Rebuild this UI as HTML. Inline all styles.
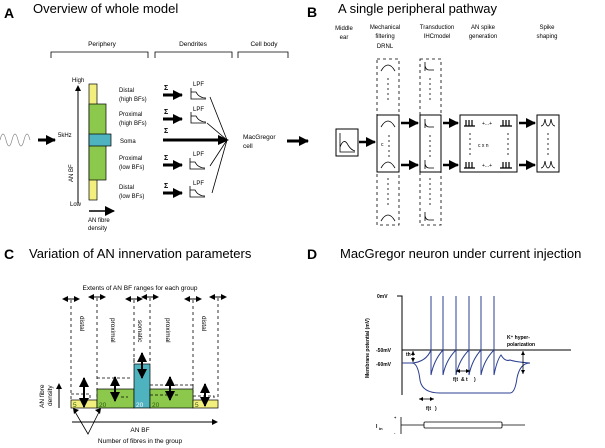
<!DOCTYPE html>
<html><head><meta charset="utf-8"><style>
html,body{margin:0;padding:0;background:#fff}
svg{display:block;font-family:"Liberation Sans",sans-serif}
</style></head><body>
<svg width="605" height="448" viewBox="0 0 605 448" xmlns="http://www.w3.org/2000/svg">
<defs>
<marker id="ah" markerWidth="6" markerHeight="6" refX="5" refY="3" orient="auto" markerUnits="userSpaceOnUse"><path d="M0,0 L6,3 L0,6z" fill="#000"/></marker>
<marker id="ahb" markerWidth="10" markerHeight="10" refX="9" refY="5" orient="auto" markerUnits="userSpaceOnUse"><path d="M0,0 L10,5 L0,10z" fill="#000"/></marker>
<marker id="as" markerWidth="4" markerHeight="4" refX="4" refY="2" orient="auto" markerUnits="userSpaceOnUse"><path d="M0,0 L4,2 L0,4z" fill="#000"/></marker>
</defs>

<!-- ===== Panel A ===== -->
<text x="4" y="18" font-size="14" font-weight="bold">A</text>
<text x="33" y="13" font-size="13">Overview of whole model</text>
<g font-size="6.5" text-anchor="middle">
<text x="102" y="46">Periphery</text><text x="193" y="46">Dendrites</text><text x="264" y="46">Cell body</text>
</g>
<g fill="none" stroke="#000" stroke-width="0.8">
<path d="M51,58 V52 H148 V58"/><path d="M155,58 V52 H232 V58"/><path d="M238,58 V52 H288 V58"/>
</g>
<path d="M0,140 q3,-12 6,0 t6,0 t6,0 t6,0 t6,0" fill="none" stroke="#888" stroke-width="0.7"/>
<line x1="38" y1="140" x2="55" y2="140" stroke="#000" stroke-width="3" marker-end="url(#ahb)"/>
<text x="58" y="137" font-size="6">5kHz</text>
<line x1="78" y1="203" x2="78" y2="86" stroke="#000" stroke-width="1" marker-end="url(#ah)"/>
<text x="72" y="82" font-size="6">High</text><text x="70" y="206" font-size="6">Low</text>
<text transform="translate(73,182) rotate(-90)" font-size="6">AN BF</text>
<rect x="89" y="84" width="8" height="116" fill="#f3ef7e" stroke="#000" stroke-width="0.7"/>
<rect x="89" y="104" width="17" height="76" fill="#8cc84b" stroke="#000" stroke-width="0.7"/>
<rect x="89" y="134" width="22" height="12" fill="#4fb3bf" stroke="#000" stroke-width="0.7"/>
<line x1="89" y1="211" x2="114" y2="211" stroke="#000" stroke-width="1.5" marker-end="url(#ahb)"/>
<text x="88" y="222" font-size="6">AN fibre</text><text x="88" y="230" font-size="6">density</text>
<g font-size="6">
<text x="119" y="92">Distal</text><text x="119" y="101">(high BFs)</text>
<text x="119" y="116">Proximal</text><text x="119" y="125">(high BFs)</text>
<text x="120" y="143">Soma</text>
<text x="119" y="160">Proximal</text><text x="119" y="169">(low BFs)</text>
<text x="119" y="189">Distal</text><text x="119" y="198">(low BFs)</text>
</g>
<g stroke="#000" stroke-width="3">
<line x1="163" y1="95" x2="182" y2="95" marker-end="url(#ahb)"/>
<line x1="163" y1="119" x2="182" y2="119" marker-end="url(#ahb)"/>
<line x1="163" y1="165" x2="182" y2="165" marker-end="url(#ahb)"/>
<line x1="163" y1="193" x2="182" y2="193" marker-end="url(#ahb)"/>
<line x1="163" y1="140" x2="226" y2="140"/>
</g>
<path d="M218,135 L229,140 L218,145z"/>
<g font-size="7" font-weight="bold"><text x="164" y="90">Σ</text><text x="164" y="114">Σ</text><text x="164" y="133">Σ</text><text x="164" y="160">Σ</text><text x="164" y="188">Σ</text></g>
<g font-size="6"><text x="193" y="86">LPF</text><text x="193" y="111">LPF</text><text x="193" y="156">LPF</text><text x="193" y="185">LPF</text></g>
<g fill="none" stroke="#000" stroke-width="0.8">
<path d="M191,88 V99 H206 M191,92 H196 q3,6 10,6"/>
<path d="M191,112 V123 H206 M191,116 H196 q3,6 10,6"/>
<path d="M190,158 V169 H205 M190,162 H195 q3,6 10,6"/>
<path d="M190,186 V197 H205 M190,190 H195 q3,6 10,6"/>
<path d="M210,97 L227,140 M207,123 L227,140 M210,166 L227,140 M212,193 L227,140"/>
</g>
<text x="243" y="139" font-size="6.5">MacGregor</text><text x="243" y="148" font-size="6.5">cell</text>
<line x1="287" y1="141" x2="308" y2="141" stroke="#000" stroke-width="3" marker-end="url(#ahb)"/>

<!-- ===== Panel B ===== -->
<text x="307" y="17" font-size="14" font-weight="bold">B</text>
<text x="338" y="13" font-size="13">A single peripheral pathway</text>
<g font-size="6" text-anchor="middle">
<text x="344" y="30">Middle</text><text x="344" y="39">ear</text>
<text x="385" y="29">Mechanical</text><text x="385" y="38">filtering</text><text x="385" y="48">DRNL</text>
<text x="437" y="29">Transduction</text><text x="437" y="38">IHCmodel</text>
<text x="483" y="29">AN spike</text><text x="483" y="38">generation</text>
<text x="547" y="29">Spike</text><text x="547" y="38">shaping</text>
</g>
<g fill="none" stroke="#000">
<rect x="336" y="129" width="22" height="27" stroke-width="1"/>
<path d="M340,133 V152 H355 M340,147 q4,-10 8,-2 q3,5 7,6" stroke-width="0.8"/>
<rect x="377" y="59" width="22" height="166" stroke-dasharray="3,3" stroke-width="0.8"/>
<rect x="420" y="59" width="21" height="166" stroke-dasharray="3,3" stroke-width="0.8"/>
<rect x="377" y="115" width="22" height="57" stroke-width="1"/>
<rect x="420" y="115" width="21" height="57" stroke-width="1"/>
<rect x="460" y="115" width="57" height="57" stroke-width="1"/>
<rect x="537" y="115" width="22" height="57" stroke-width="1"/>
<g stroke-width="0.8">
<path d="M381,71 q7,-12 14,0"/><path d="M381,127 q7,-12 14,0"/><path d="M381,168 q7,-12 14,0"/><path d="M381,221 q7,-12 14,0"/>
<path d="M425,62 V71 M425,66 q1,4 4,4 H434"/><path d="M425,119 V128 M425,123 q1,4 4,4 H434"/><path d="M425,160 V169 M425,164 q1,4 4,4 H434"/><path d="M425,212 V221 M425,216 q1,4 4,4 H434"/>
<path d="M388,78 V100 M388,178 V205 M430,78 V100 M430,178 V205 M389,135 V160 M430,135 V160 M470,133 V157 M508,133 V157 M548,133 V157" stroke-dasharray="2,3"/>
<path d="M541,126 q3,0 4,-7 q1,7 3,7 q2,0 3,-7 q1,7 4,7"/>
<path d="M541,168 q3,0 4,-7 q1,7 3,7 q2,0 3,-7 q1,7 4,7"/>
</g>
</g>
<g stroke="#000" stroke-width="1.2" fill="none">
<path d="M464,126 H475 M466,126 V120 M469,126 V120 M472,126 V120"/>
<path d="M500,126 H512 M503,126 V120 M506,126 V120 M509,126 V120"/>
<path d="M464,168 H475 M466,168 V162 M469,168 V162 M472,168 V162"/>
<path d="M500,168 H512 M503,168 V162 M506,168 V162 M509,168 V162"/>
</g>
<g font-size="5"><text x="482" y="125">+...+</text><text x="482" y="167">+...+</text><text x="478" y="147">c x n</text><text x="381" y="146">c</text></g>
<g stroke="#000" stroke-width="2.5">
<line x1="359" y1="142" x2="375" y2="142" marker-end="url(#ahb)"/>
<line x1="401" y1="123" x2="418" y2="123" marker-end="url(#ahb)"/>
<line x1="401" y1="165" x2="418" y2="165" marker-end="url(#ahb)"/>
<line x1="443" y1="123" x2="458" y2="123" marker-end="url(#ahb)"/>
<line x1="443" y1="165" x2="458" y2="165" marker-end="url(#ahb)"/>
<line x1="519" y1="123" x2="535" y2="123" marker-end="url(#ahb)"/>
<line x1="519" y1="165" x2="535" y2="165" marker-end="url(#ahb)"/>
</g>

<!-- ===== Panel C ===== -->
<text x="4" y="259" font-size="14" font-weight="bold">C</text>
<text x="29" y="258" font-size="13">Variation of AN innervation parameters</text>
<text x="140" y="290" font-size="6.5" text-anchor="middle">Extents of AN BF ranges for each group</text>
<g stroke="#000" stroke-width="0.8" stroke-dasharray="3,3">
<line x1="71" y1="300" x2="71" y2="400"/><line x1="97" y1="298" x2="97" y2="400"/><line x1="134" y1="300" x2="134" y2="364"/><line x1="150" y1="298" x2="150" y2="364"/><line x1="193" y1="300" x2="193" y2="400"/><line x1="218" y1="298" x2="218" y2="400"/>
</g>
<g stroke="#000" stroke-width="1">
<line x1="71" y1="299" x2="63" y2="299" marker-end="url(#ah)"/><line x1="71" y1="299" x2="79" y2="299" marker-end="url(#ah)"/>
<line x1="97" y1="297" x2="89" y2="297" marker-end="url(#ah)"/><line x1="97" y1="297" x2="105" y2="297" marker-end="url(#ah)"/>
<line x1="134" y1="299" x2="126" y2="299" marker-end="url(#ah)"/><line x1="134" y1="299" x2="142" y2="299" marker-end="url(#ah)"/>
<line x1="150" y1="297" x2="142" y2="297" marker-end="url(#ah)"/><line x1="150" y1="297" x2="158" y2="297" marker-end="url(#ah)"/>
<line x1="193" y1="299" x2="185" y2="299" marker-end="url(#ah)"/><line x1="193" y1="299" x2="201" y2="299" marker-end="url(#ah)"/>
<line x1="218" y1="297" x2="210" y2="297" marker-end="url(#ah)"/><line x1="218" y1="297" x2="226" y2="297" marker-end="url(#ah)"/>
</g>
<g font-size="6.5">
<text transform="translate(80,316) rotate(90)">distal</text>
<text transform="translate(111,318) rotate(90)">proximal</text>
<text transform="translate(138,320) rotate(90)">somatic</text>
<text transform="translate(166,318) rotate(90)">proximal</text>
<text transform="translate(202,316) rotate(90)">distal</text>
</g>
<rect x="71" y="400" width="26" height="8" fill="#f3ef7e" stroke="#000" stroke-width="0.7"/>
<rect x="97" y="389" width="37" height="19" fill="#8cc84b" stroke="#000" stroke-width="0.7"/>
<rect x="134" y="364" width="16" height="44" fill="#4fb3bf" stroke="#000" stroke-width="0.7"/>
<rect x="150" y="389" width="43" height="19" fill="#8cc84b" stroke="#000" stroke-width="0.7"/>
<rect x="193" y="400" width="25" height="8" fill="#f3ef7e" stroke="#000" stroke-width="0.7"/>
<g fill="none" stroke="#000" stroke-width="0.8" stroke-dasharray="3,2">
<path d="M71,394 H90 V400"/><path d="M97,378 H130"/><path d="M121,397 H128"/><path d="M134,358 V362 M150,358 V362"/><path d="M150,385 H193 V389"/><path d="M150,395 H180"/><path d="M193,396 H214 V400"/>
</g>
<g stroke="#000" stroke-width="2">
<line x1="84" y1="397" x2="84" y2="378" marker-end="url(#ahb)"/><line x1="84" y1="388" x2="84" y2="407" marker-end="url(#ahb)"/>
<line x1="115" y1="393" x2="115" y2="377" marker-end="url(#ahb)"/><line x1="115" y1="385" x2="115" y2="401" marker-end="url(#ahb)"/>
<line x1="142" y1="366" x2="142" y2="353" marker-end="url(#ahb)"/><line x1="142" y1="362" x2="142" y2="378" marker-end="url(#ahb)"/>
<line x1="170" y1="392" x2="170" y2="377" marker-end="url(#ahb)"/><line x1="170" y1="384" x2="170" y2="400" marker-end="url(#ahb)"/>
<line x1="205" y1="400" x2="205" y2="384" marker-end="url(#ahb)"/><line x1="205" y1="392" x2="205" y2="406" marker-end="url(#ahb)"/>
</g>
<g font-size="6.5" fill="#2a5b10"><text x="73" y="407">5</text><text x="99" y="407">20</text><text x="136" y="407" fill="#fff">20</text><text x="152" y="407">20</text><text x="195" y="407">5</text></g>
<line x1="59" y1="408" x2="59" y2="384" stroke="#000" stroke-width="1" marker-end="url(#ah)"/>
<text transform="translate(44,408) rotate(-90)" font-size="6.5">AN fibre</text>
<text transform="translate(52,406) rotate(-90)" font-size="6.5">density</text>
<line x1="72" y1="422" x2="217" y2="422" stroke="#000" stroke-width="1" marker-end="url(#ah)"/>
<text x="140" y="432" font-size="6.5" text-anchor="middle">AN BF</text>
<path d="M74,410 L88,434 L100,410" fill="none" stroke="#000" stroke-width="0.8"/>
<path d="M73,408 l1,6 l5,-4z M101,408 l-1,6 l-5,-4z"/>
<text x="140" y="443" font-size="6.5" text-anchor="middle">Number of fibres in the group</text>

<!-- ===== Panel D ===== -->
<text x="307" y="259" font-size="14" font-weight="bold">D</text>
<text x="340" y="258" font-size="13">MacGregor neuron under current injection</text>
<g font-size="5" font-weight="bold">
<text x="377" y="298">0mV</text><text x="376" y="352">-50mV</text><text x="376" y="366">-60mV</text>
<text transform="translate(369,378) rotate(-90)">Membrane potential (mV)</text>
<text x="406" y="356">th</text><text x="507" y="339">K⁺ hyper-</text><text x="507" y="346">polarization</text>
<text x="453" y="381">f(t</text><text x="461" y="381">&amp; t</text><text x="474" y="381">)</text>
<text x="426" y="410">f(t</text><text x="435" y="410">)</text>
<text x="376" y="428">I</text><text x="379" y="430" font-size="4">in</text>
<text x="394" y="419" font-size="4">+</text><text x="394" y="434" font-size="4">-</text>
</g>
<g fill="none" stroke="#000" stroke-width="1">
<path d="M397,296 H402 V395"/>
<line x1="402" y1="350" x2="571" y2="350"/>
</g>
<g fill="none" stroke="#2b3f8f" stroke-width="1">
<path d="M402,363 H412 Q418,363 420,380 Q422,393 440,393 H510 Q515,393 517,378 Q520,363 530,363"/>
<path d="M412,363 Q426,362 431,350 V296 M431,350 V375 Q434,360 443,350 V296 M443,350 V375 Q446,360 456,350 V296 M456,350 V375 Q459,360 469,350 V296 M469,350 V375 Q472,360 481,350 V296 M481,350 V375 Q484,360 494,350 V296 M494,350 V375 Q497,360 501,355 Q505,362 510,360 Q516,362 530,363"/>
</g>
<g stroke="#000" stroke-width="0.8">
<line x1="413" y1="356" x2="413" y2="351" marker-end="url(#as)"/><line x1="413" y1="357" x2="413" y2="362" marker-end="url(#as)"/>
<line x1="523" y1="362" x2="523" y2="351" marker-end="url(#as)"/><line x1="523" y1="362" x2="523" y2="374" marker-end="url(#as)"/>
<line x1="463" y1="371" x2="456" y2="371" marker-end="url(#as)"/><line x1="463" y1="371" x2="470" y2="371" marker-end="url(#as)"/>
<line x1="426" y1="399" x2="419" y2="399" marker-end="url(#as)"/><line x1="426" y1="399" x2="434" y2="399" marker-end="url(#as)"/>
</g>
<g fill="none" stroke="#000" stroke-width="0.8">
<path d="M401,417 V434 M401,425 H424"/>
<rect x="424" y="422" width="78" height="6" rx="1"/>
<path d="M502,425 H525"/>
</g>
</svg>
</body></html>
